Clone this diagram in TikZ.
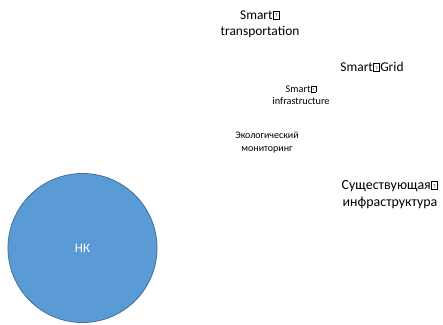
\documentclass[tikz,border=0pt]{standalone}
\usepackage{fontspec}
\usepackage{graphicx}
\setmainfont{Carlito}
\definecolor{cfill}{HTML}{5B9BD5}
\definecolor{cline}{HTML}{41719C}
\newcommand\qbx{\kern0.03em{\setlength\fboxsep{0pt}\setlength\fboxrule{0.4pt}\fbox{\makebox[0.42em]{\rule{0pt}{0.6em}\raisebox{0.1em}{\scalebox{0.4}{?}}}}}\kern0.03em}
\tikzset{
  lbl/.style={align=center, inner sep=0pt, text=black},
  big/.style={lbl, font=\fontsize{13.5}{16.5}\selectfont},
  small/.style={lbl, font=\fontsize{10.3}{12.5}\selectfont},
}
\begin{document}
\begin{tikzpicture}[x=1bp,y=1bp]
\useasboundingbox (0,0) rectangle (443,324);
\node[circle, draw=cline, line width=0.8bp, fill=cfill, minimum size=149bp, inner sep=0pt,
      text=white, font=\fontsize{13}{15}\selectfont] (nk) at (82.5,76) {НК};
\node[big] (trans) at (260,300) {Smart\qbx\\transportation};
\node[big] (grid) at (372,257) {Smart\qbx Grid};
\node[small] (infra) at (301,229) {Smart\qbx\\infrastructure};
\node[small, font=\fontsize{10}{13}\selectfont] (eco) at (267,181.5) {Экологический\\мониторинг};
\node[big, font=\fontsize{14}{17}\selectfont] (exist) at (390,129.5) {Существующая\qbx\\инфраструктура};
\end{tikzpicture}
\end{document}
